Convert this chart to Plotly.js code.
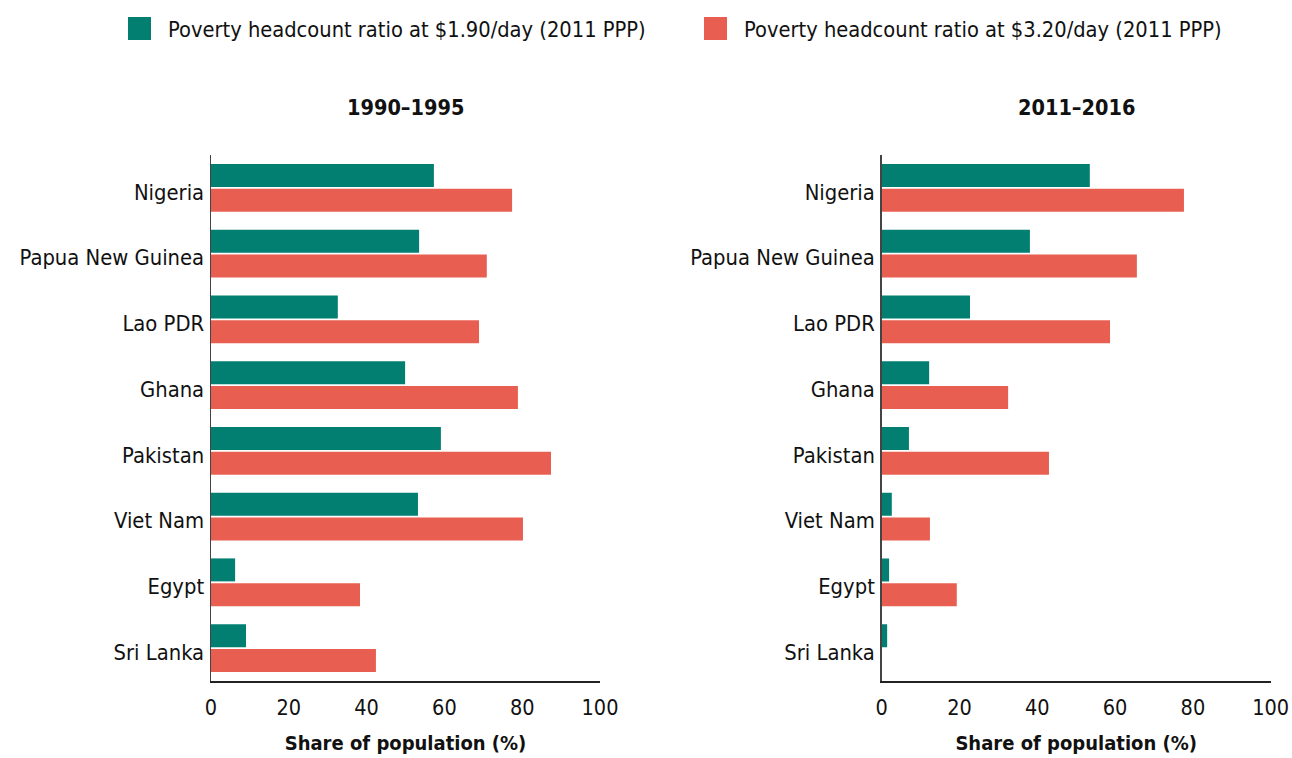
<!DOCTYPE html>
<html>
<head>
<meta charset="utf-8">
<script src="https://cdn.plot.ly/plotly-3.0.1.min.js"></script>
<style>html,body{margin:0;padding:0;background:#fff;}#chart{width:1292px;height:758px;}</style>
</head>
<body>
<div id="chart"></div>
<script>
const countries = ["Nigeria", "Papua New Guinea", "Lao PDR", "Ghana", "Pakistan", "Viet Nam", "Egypt", "Sri Lanka"];
const seriesNames = ["Poverty headcount ratio at $1.90/day (2011 PPP)", "Poverty headcount ratio at $3.20/day (2011 PPP)"];
const panelTitles = ["1990–1995", "2011–2016"];
const early190 = [57.3, 53.5, 32.6, 49.9, 59.1, 53.2, 6.2, 9.0];
const early320 = [77.4, 70.9, 68.9, 78.9, 87.4, 80.2, 38.3, 42.4];
const late190 = [53.5, 38.1, 22.7, 12.2, 7.0, 2.6, 1.9, 1.4];
const late320 = [77.7, 65.6, 58.7, 32.5, 43.0, 12.4, 19.3, null];
const xTicks = [0, 20, 40, 60, 80, 100];
const xTitle = "Share of population (%)";

const GREEN = "#037f72";
const RED = "#e85f51";
const FONT = "'Liberation Sans Narrow', 'Arial Narrow', 'DejaVu Sans Condensed', sans-serif";

function bar(x, name, color, xa, ya) {
  return {type: "bar", orientation: "h", x: x, y: countries, name: name,
    marker: {color: color}, xaxis: xa, yaxis: ya, showlegend: false, hoverinfo: "x+y"};
}
const data = [
  bar(early190, seriesNames[0], GREEN, "x", "y"),
  bar(early320, seriesNames[1], RED, "x", "y"),
  bar(late190, seriesNames[0], GREEN, "x2", "y2"),
  bar(late320, seriesNames[1], RED, "x2", "y2")
];

const W = 1292, H = 758;
const T = 155, B = 77;
const PH = H - T - B;
const d1 = [211 / W, 600 / W];
const d2 = [881.7 / W, 1270.7 / W];
function py(pix) { return 1 - (pix - T) / PH; }

function xaxis(domain, anchor) {
  return {domain: domain, anchor: anchor, range: [0, 100], tickvals: xTicks, ticktext: xTicks.map(String),
    showgrid: false, zeroline: false, showline: true, linecolor: "#222", linewidth: 1.5,
    ticks: "outside", ticklen: 7, tickcolor: "rgba(0,0,0,0)",
    tickfont: {family: FONT, size: 21.5, color: "#111"},
    title: {text: "<b>" + xTitle + "</b>", font: {family: FONT, size: 20, color: "#111"}, standoff: 16},
    fixedrange: true};
}
function yaxis(anchor) {
  return {domain: [0, 1], anchor: anchor, autorange: "reversed", type: "category",
    showgrid: false, zeroline: false, showline: true, linecolor: "#444", linewidth: 1.5,
    ticks: "outside", ticklen: 1, tickcolor: "rgba(0,0,0,0)", ticklabelshift: -4,
    tickfont: {family: FONT, size: 21.8, color: "#111"}, fixedrange: true};
}

const shapes = [];
const annotations = [];
// custom legend
const legendX = [128, 704];
const legendColors = [GREEN, RED];
for (let i = 0; i < 2; i++) {
  shapes.push({type: "rect", xref: "paper", yref: "paper",
    x0: legendX[i] / W, x1: (legendX[i] + 23) / W,
    y0: py(40), y1: py(17),
    fillcolor: legendColors[i], line: {width: 0}});
  annotations.push({xref: "paper", yref: "paper", x: (legendX[i] + 38) / W,
    y: py(30), xanchor: "left", yanchor: "middle", showarrow: false,
    text: seriesNames[i], font: {family: FONT, size: 21.7, color: "#111"}});
}
const titleCenters = [(d1[0] + d1[1]) / 2, (d2[0] + d2[1]) / 2];
for (let i = 0; i < 2; i++) {
  annotations.push({xref: "paper", yref: "paper", x: titleCenters[i],
    y: py(108), xanchor: "center", yanchor: "middle", showarrow: false,
    text: "<b>" + panelTitles[i] + "</b>", font: {family: FONT, size: 21.5, color: "#111"}});
}

const layout = {
  width: W, height: H, margin: {l: 0, r: 0, t: T, b: B, pad: 0},
  paper_bgcolor: "#fff", plot_bgcolor: "#fff",
  barmode: "group", bargap: 0.24, bargroupgap: 0.08,
  showlegend: false,
  xaxis: xaxis(d1, "y"), yaxis: yaxis("x"),
  xaxis2: xaxis(d2, "y2"), yaxis2: yaxis("x2"),
  shapes: shapes, annotations: annotations,
  font: {family: FONT, color: "#111"}
};
Plotly.newPlot("chart", data, layout, {displayModeBar: false, staticPlot: true});
</script>
</body>
</html>
